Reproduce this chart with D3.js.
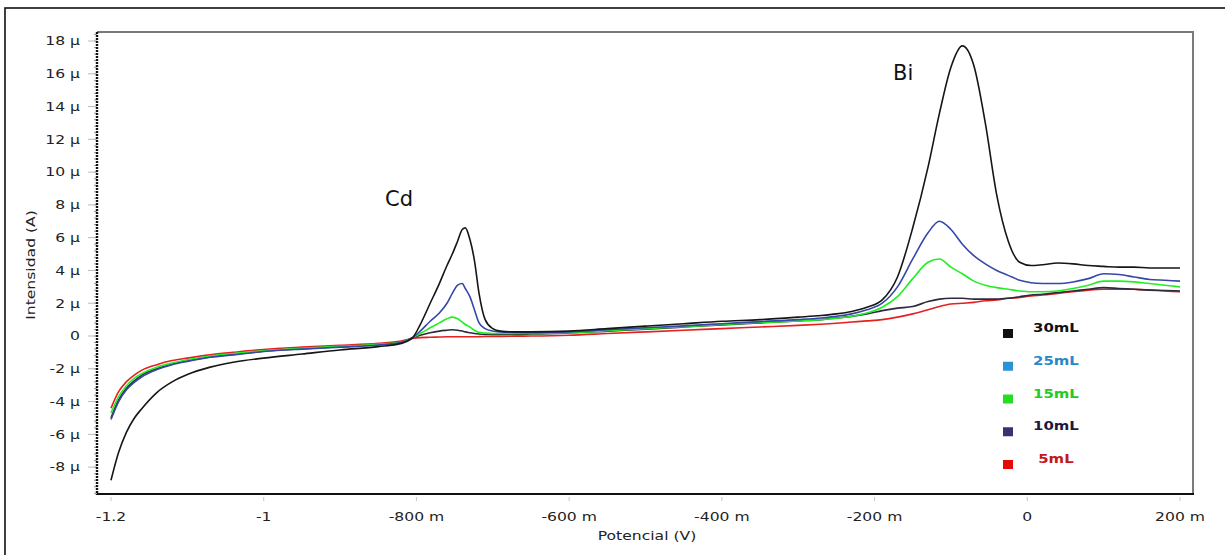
<!DOCTYPE html>
<head>
  <meta charset="utf-8">
  <script src="https://d3js.org/d3.v7.min.js"></script>
  <style>
    body { margin:0; background:#fff; overflow:hidden; }
    text { font-family: "DejaVu Sans", Verdana, sans-serif; }
  </style>
</head>
<body>
  <script>
    // potencial (V) and intensidad (uA)
    var potencial = [
      -1.2, -1.19, -1.18, -1.17, -1.16, -1.14, -1.12, -1.1, -1.07, -1.04,
      -1.0, -0.95, -0.9, -0.85, -0.82, -0.805, -0.795, -0.782, -0.77, -0.76,
      -0.753, -0.746, -0.74, -0.736, -0.73, -0.724, -0.718, -0.71, -0.7, -0.69,
      -0.67, -0.65, -0.6, -0.55, -0.5, -0.45, -0.4, -0.35, -0.3, -0.27,
      -0.25, -0.23, -0.21, -0.19, -0.17, -0.15, -0.13, -0.115, -0.1, -0.085,
      -0.07, -0.055, -0.04, -0.025, -0.01, 0.005, 0.02, 0.04, 0.06, 0.08,
      0.1, 0.12, 0.14, 0.16, 0.18, 0.2];

    var i30 = [
      -8.8, -7.1, -5.9, -5.05, -4.45, -3.45, -2.8, -2.35, -1.9, -1.6,
      -1.35, -1.1, -0.85, -0.65, -0.45, -0.1, 0.7, 2.0, 3.2, 4.3,
      5.0, 5.8, 6.5, 6.6, 5.9, 4.6, 2.6, 1.0, 0.45, 0.3,
      0.25, 0.25, 0.3, 0.45, 0.6, 0.75, 0.9, 1.0, 1.15, 1.25,
      1.35, 1.5, 1.75, 2.2, 3.6, 6.6, 10.3, 13.6, 16.4, 17.7,
      16.5, 13.0, 8.6, 5.8, 4.5, 4.3, 4.35, 4.45, 4.4, 4.3,
      4.25, 4.2, 4.2, 4.15, 4.15, 4.15];

    var i25 = [
      -5.1, -4.0, -3.3, -2.85, -2.5, -2.05, -1.75, -1.55, -1.3, -1.15,
      -0.95, -0.8, -0.68, -0.55, -0.4, -0.1, 0.3, 0.9, 1.4, 2.0,
      2.6, 3.1, 3.2, 2.9, 2.4, 1.6, 0.8, 0.45, 0.3, 0.25,
      0.22, 0.2, 0.25, 0.38, 0.5, 0.62, 0.75, 0.88, 1.0, 1.1,
      1.2, 1.35, 1.6, 2.0, 3.0, 4.7, 6.3, 7.0, 6.5, 5.6,
      4.9, 4.4, 4.0, 3.7, 3.4, 3.25, 3.2, 3.2, 3.3, 3.5,
      3.8, 3.75, 3.6, 3.45, 3.4, 3.35];

    var i15 = [
      -4.7, -3.7, -3.05, -2.6, -2.3, -1.9, -1.65, -1.45, -1.22, -1.07,
      -0.9, -0.75, -0.63, -0.5, -0.38, -0.1, 0.15, 0.5, 0.8, 1.05,
      1.15, 1.05, 0.85, 0.7, 0.55, 0.35, 0.22, 0.18, 0.15, 0.15,
      0.15, 0.15, 0.2, 0.32, 0.45, 0.57, 0.7, 0.82, 0.92, 1.0,
      1.08, 1.2, 1.4, 1.75, 2.4, 3.5, 4.5, 4.7, 4.2, 3.8,
      3.35, 3.1, 2.95, 2.85, 2.75, 2.7, 2.7, 2.75, 2.9, 3.1,
      3.35, 3.35, 3.3, 3.2, 3.1, 3.0];

    var i10 = [
      -5.0, -3.9, -3.2, -2.75, -2.4, -2.0, -1.72, -1.52, -1.28, -1.12,
      -0.93, -0.78, -0.66, -0.53, -0.4, -0.1, 0.05, 0.2, 0.3, 0.35,
      0.38, 0.35, 0.3, 0.25, 0.2, 0.15, 0.12, 0.1, 0.1, 0.1,
      0.1, 0.12, 0.18, 0.3, 0.42, 0.55, 0.68, 0.8, 0.92, 1.0,
      1.1, 1.2, 1.35, 1.55, 1.7, 1.8, 2.1, 2.25, 2.3, 2.3,
      2.25, 2.25, 2.25, 2.3, 2.4, 2.5, 2.55, 2.65, 2.75, 2.85,
      2.95, 2.9, 2.85, 2.8, 2.78, 2.75];

    var i5 = [
      -4.4, -3.4, -2.8, -2.4, -2.1, -1.75, -1.5, -1.35, -1.15, -1.0,
      -0.82, -0.68, -0.57, -0.45, -0.3, -0.15, -0.1, -0.08, -0.06, -0.05,
      -0.05, -0.05, -0.05, -0.05, -0.05, -0.05, -0.04, -0.03, -0.02, -0.02,
      -0.01, 0.0, 0.05, 0.15, 0.25, 0.35, 0.45, 0.55, 0.65, 0.72,
      0.78, 0.85, 0.92, 1.0, 1.15, 1.35, 1.6, 1.8, 1.95, 2.0,
      2.05, 2.15, 2.2, 2.3, 2.35, 2.45, 2.5, 2.6, 2.7, 2.8,
      2.85, 2.85, 2.85, 2.8, 2.75, 2.7];

    var xTicks = [-1.2, -1.0, -0.8, -0.6, -0.4, -0.2, 0, 0.2];
    var xTickLabels = ["-1.2", "-1", "-800 m", "-600 m", "-400 m", "-200 m", "0", "200 m"];
    var yTicks = [-8, -6, -4, -2, 0, 2, 4, 6, 8, 10, 12, 14, 16, 18];

    var legendNames = ["30mL", "25mL", "15mL", "10mL", " 5mL"];
    var legendSwatch = ["#111111", "#2a92d6", "#22dd22", "#3b3070", "#e80808"];
    var legendText = ["#111111", "#2a88c8", "#22cc22", "#1c1840", "#c41818"];

    // drawing order: thin ones first, 30 mL on top
    var series = [
      { name: "5mL", values: i5, color: "#e52020" },
      { name: "10mL", values: i10, color: "#2e2a3e" },
      { name: "15mL", values: i15, color: "#22ee22" },
      { name: "25mL", values: i25, color: "#3548a8" },
      { name: "30mL", values: i30, color: "#161616" }
    ];

    var width = 1225, height = 555;
    var frame = { left: 97, right: 1193, top: 32, bottom: 494 };
    var stretch = 1.3; // the axis text in the picture is wide

    var svg = d3.select("body").append("svg")
      .attr("width", width)
      .attr("height", height);

    // outer box of the figure
    svg.append("rect")
      .attr("x", 5).attr("y", 8)
      .attr("width", 1240).attr("height", 570)
      .attr("fill", "none").attr("stroke", "#111").attr("stroke-width", 1.6);

    var x = d3.scaleLinear().domain([-1.2, 0.2]).range([111, 1180]);
    var y = d3.scaleLinear().domain([0, 18]).range([336, 41]);

    // frame: grey top/right, black left/bottom
    svg.append("path")
      .attr("d", "M" + frame.left + "," + frame.top + "H" + frame.right + "V" + frame.bottom)
      .attr("fill", "none").attr("stroke", "#7a7a7a").attr("stroke-width", 2);

    // y axis with dense minor ticks
    var gy = svg.append("g");
    gy.selectAll(".minor")
      .data(d3.range(-9.6, 18.5, 0.4))
      .enter().append("line")
      .attr("x1", frame.left - 3).attr("x2", frame.left)
      .attr("y1", function(d) { return y(d); })
      .attr("y2", function(d) { return y(d); })
      .attr("stroke", "#9a9a9a").attr("stroke-width", 1);
    gy.selectAll(".major")
      .data(yTicks)
      .enter().append("line")
      .attr("x1", frame.left - 9).attr("x2", frame.left)
      .attr("y1", function(d) { return y(d); })
      .attr("y2", function(d) { return y(d); })
      .attr("stroke", "#bbbbbb").attr("stroke-width", 1);
    gy.selectAll(".lab")
      .data(yTicks)
      .enter().append("text")
      .attr("transform", function(d) { return "translate(80," + y(d) + ") scale(" + stretch + ",1)"; })
      .attr("dy", "0.36em")
      .attr("text-anchor", "end")
      .attr("font-size", 12)
      .attr("fill", "#222")
      .text(function(d) { return d === 0 ? "0" : d + " \u00b5"; });
    gy.append("line")
      .attr("x1", frame.left).attr("x2", frame.left)
      .attr("y1", frame.top).attr("y2", frame.bottom + 1)
      .attr("stroke", "#111").attr("stroke-width", 2.4)
      .attr("stroke-dasharray", "2,1");

    // x axis
    var gx = svg.append("g");
    gx.append("line")
      .attr("x1", frame.left).attr("x2", frame.right + 1)
      .attr("y1", frame.bottom).attr("y2", frame.bottom)
      .attr("stroke", "#111").attr("stroke-width", 2);
    gx.selectAll(".tick")
      .data(xTicks)
      .enter().append("line")
      .attr("x1", function(d) { return x(d); })
      .attr("x2", function(d) { return x(d); })
      .attr("y1", frame.bottom + 3).attr("y2", frame.bottom + 7)
      .attr("stroke", "#c8c8c8").attr("stroke-width", 1);
    gx.selectAll(".lab")
      .data(xTicks)
      .enter().append("text")
      .attr("transform", function(d) { return "translate(" + x(d) + ",521) scale(" + stretch + ",1)"; })
      .attr("text-anchor", "middle")
      .attr("font-size", 12)
      .attr("fill", "#222")
      .text(function(d, i) { return xTickLabels[i]; });

    svg.append("text")
      .attr("transform", "translate(" + ((frame.left + frame.right) / 2 + 2) + ",540) scale(" + stretch + ",1)")
      .attr("text-anchor", "middle")
      .attr("font-size", 12)
      .attr("fill", "#222")
      .text("Potencial (V)");

    svg.append("text")
      .attr("transform", "translate(35," + ((frame.top + frame.bottom) / 2 + 2) + ") rotate(-90) scale(" + stretch + ",1)")
      .attr("text-anchor", "middle")
      .attr("font-size", 12)
      .attr("fill", "#222")
      .text("Intensidad (A)");

    // curves
    var line = d3.line()
      .x(function(d, i) { return x(potencial[i]); })
      .y(function(d) { return y(d); })
      .curve(d3.curveMonotoneX);

    svg.append("g").selectAll("path")
      .data(series)
      .enter().append("path")
      .attr("d", function(s) { return line(s.values); })
      .attr("fill", "none")
      .attr("stroke", function(s) { return s.color; })
      .attr("stroke-width", 1.6)
      .attr("stroke-linejoin", "round");

    // peak labels
    svg.append("text")
      .attr("x", 385).attr("y", 206)
      .attr("font-family", "'Open Sans', 'Noto Sans', sans-serif")
      .attr("font-size", 21)
      .attr("fill", "#111")
      .text("Cd");
    svg.append("text")
      .attr("x", 893).attr("y", 80)
      .attr("font-family", "'Open Sans', 'Noto Sans', sans-serif")
      .attr("font-size", 21)
      .attr("fill", "#111")
      .text("Bi");

    // legend
    var legendY = d3.scaleLinear().domain([0, 4]).range([333, 464]);
    var lg = svg.append("g").selectAll("g")
      .data(legendNames)
      .enter().append("g")
      .attr("transform", function(d, i) { return "translate(1003," + legendY(i) + ")"; });
    lg.append("rect")
      .attr("x", 0).attr("y", -4)
      .attr("width", 10).attr("height", 9)
      .attr("fill", function(d, i) { return legendSwatch[i]; });
    lg.append("text")
      .attr("transform", "translate(30,-1) scale(1.15,1)")
      .attr("font-size", 13)
      .attr("font-weight", "bold")
      .attr("fill", function(d, i) { return legendText[i]; })
      .style("white-space", "pre")
      .text(function(d) { return d; });
  </script>
</body>
